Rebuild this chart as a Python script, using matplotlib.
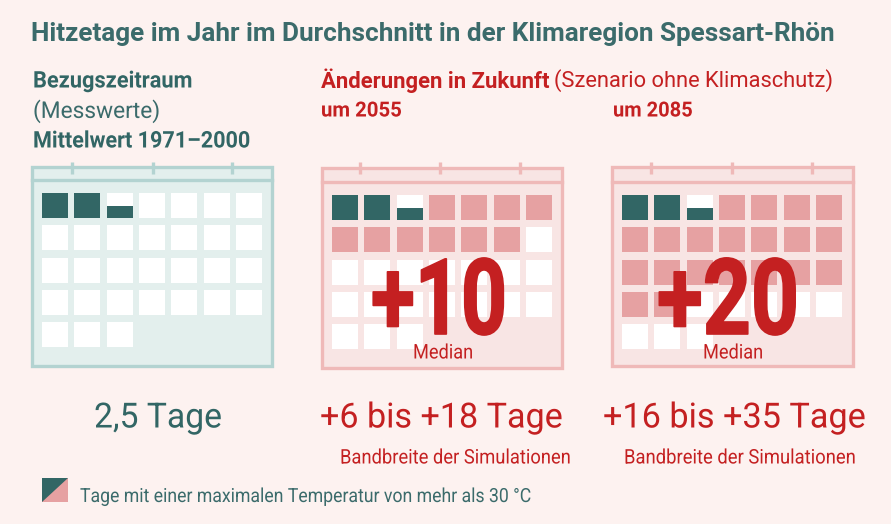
import matplotlib
matplotlib.use('Agg')
import matplotlib.pyplot as plt
import matplotlib.patheffects as pe
from matplotlib.patches import Rectangle, Polygon
from matplotlib.transforms import Affine2D

# Werte aus der Grafik
base_days = 2.5
extra_days = [0, 10, 20]
month_cells = 31
cols = 7
range_labels = ['2,5 Tage', '+6 bis +18 Tage', '+16 bis +35 Tage']
median_labels = ['+10', '+20']

BG = '#fdf2f0'
TEAL = '#326665'
TEAL_TXT = '#3b6b6b'
RED = '#c42021'
PINK = '#e6a1a2'

plt.rcParams['font.family'] = 'Roboto'

# Position der Kalender in Pixeln
calendars = [
    dict(x0=32, x1=272, y0=167, y1=366, head=180, cx=42, cy=193, edge='#b3d3d1', fill='#e3efed', ticks=[72, 153, 232]),
    dict(x0=322, x1=562, y0=167.5, y1=368, head=182, cx=332, cy=195, edge='#efb9b8', fill='#f8e5e4', ticks=[360, 440, 520]),
    dict(x0=612, x1=853, y0=167, y1=366, head=182, cx=622, cy=195, edge='#efb9b8', fill='#f8e5e4', ticks=[651, 732, 812]),
]

fig = plt.figure(figsize=(8.91, 5.24), dpi=100, facecolor=BG)
ax = fig.add_axes([0, 0, 1, 1])
ax.set_xlim(0, 891)
ax.set_ylim(524, 0)
ax.axis('off')
renderer = fig.canvas.get_renderer()


class Squeeze(pe.AbstractPathEffect):
    # staucht die Schrift horizontal, Roboto Condensed gibt es hier nicht
    def __init__(self, factor, stroke=0):
        super().__init__()
        self.factor = factor
        self.stroke = stroke

    def draw_path(self, renderer, gc, tpath, affine, rgbFace=None):
        gc0 = renderer.new_gc()
        gc0.copy_properties(gc)
        if self.stroke:
            gc0.set_linewidth(self.stroke)
            gc0.set_foreground(rgbFace)
        else:
            gc0.set_linewidth(0)
        renderer.draw_path(gc0, tpath, Affine2D().scale(self.factor, 1) + affine, rgbFace)
        gc0.restore()


def fit_text(x0, x1, y, s, color, weight='normal', size=None, va='center', stroke=0):
    # Schriftgroesse (oder mit size die Stauchung) an die Breite x0-x1 anpassen
    t = ax.text(x0, y, s, color=color, fontweight=weight, fontsize=size or 14, va=va)
    w = t.get_window_extent(renderer).width
    if size:
        t.set_path_effects([Squeeze((x1 - x0) / w, stroke)])
    else:
        t.set_fontsize(14 * (x1 - x0) / w)
    return t


def draw_calendar(cal, extra):
    ax.add_patch(Rectangle((cal['x0'], cal['y0']), cal['x1'] - cal['x0'], cal['y1'] - cal['y0'],
                           fc=cal['fill'], ec=cal['edge'], lw=2.4))
    ax.plot([cal['x0'], cal['x1']], [cal['head'], cal['head']], color=cal['edge'], lw=2.4)
    for t in cal['ticks']:
        ax.plot([t, t], [162, 174], color=cal['edge'], lw=2.4, solid_capstyle='butt')

    whole = int(base_days)
    frac = base_days - whole
    pink_until = round(base_days + extra + 0.5) if extra else 0
    for i in range(month_cells):
        x = cal['cx'] + (i % cols) * 32.35
        y = cal['cy'] + (i // cols) * 32.35
        color = 'white'
        if i < whole:
            color = TEAL
        elif i < pink_until and i > whole:
            color = PINK
        ax.add_patch(Rectangle((x, y), 26, 25, fc=color, ec='none'))
        if i == whole:
            h = 25 * frac
            ax.add_patch(Rectangle((x, y + 25 - h + 0.5), 26, h - 0.5, fc=TEAL, ec='none'))


for cal, extra in zip(calendars, extra_days):
    draw_calendar(cal, extra)

# Titel und Spaltenkoepfe
fit_text(31, 836, 34, 'Hitzetage im Jahr im Durchschnitt in der Klimaregion Spessart-Rhön', TEAL_TXT, 'bold')
fit_text(33, 192, 81, 'Bezugszeitraum', TEAL, 'bold', size=16.5)
fit_text(33, 160, 111, '(Messwerte)', TEAL_TXT, size=16.5)
fit_text(33, 250, 141, 'Mittelwert 1971–2000', TEAL, 'bold', size=16.5)
fit_text(321, 550, 81, 'Änderungen in Zukunft', RED, 'bold')
fit_text(554, 835, 81, '(Szenario ohne Klimaschutz)', RED)
fit_text(321, 402, 111, 'um 2055', RED, 'bold', size=15)
fit_text(613, 693, 111, 'um 2085', RED, 'bold', size=15)

# Mediane
fit_text(371, 507, 334, median_labels[0], RED, 'bold', size=76, va='baseline', stroke=1.2)
fit_text(657, 799, 334, median_labels[1], RED, 'bold', size=76, va='baseline', stroke=1.2)
fit_text(413, 473, 353, 'Median', RED, size=14.5)
fit_text(703, 763, 353, 'Median', RED, size=14.5)

# Bandbreiten
fit_text(94, 222, 418, range_labels[0], TEAL, size=25)
fit_text(320, 563, 418, range_labels[1], RED, size=25)
fit_text(603, 866, 418, range_labels[2], RED, size=25)
fit_text(340, 570, 458, 'Bandbreite der Simulationen', RED, size=14.5)
fit_text(624, 855, 458, 'Bandbreite der Simulationen', RED, size=14.5)

# Legende
ax.add_patch(Polygon([(42, 478), (68, 478), (68, 502), (42, 502)], fc=PINK, ec='none'))
ax.add_patch(Polygon([(42, 478), (68, 478), (42, 502)], fc=TEAL, ec='none'))
fit_text(80, 534, 497, 'Tage mit einer maximalen Temperatur von mehr als 30 °C', TEAL_TXT, size=14)

fig.savefig('out.png', dpi=100, facecolor=BG)
